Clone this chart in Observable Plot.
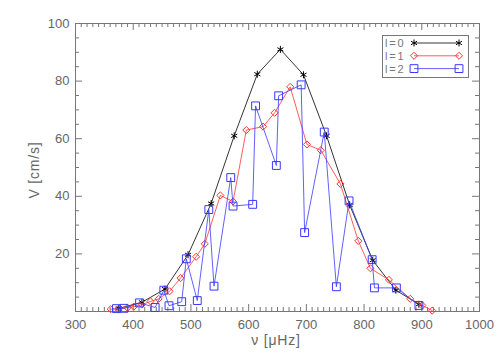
<!DOCTYPE html>
<html>
<head>
<meta charset="utf-8">
<script src="https://cdn.jsdelivr.net/npm/d3@7"></script>
<script src="https://cdn.jsdelivr.net/npm/@observablehq/plot@0.6"></script>
<style>
  html, body { margin: 0; padding: 0; background: #fff; }
</style>
</head>
<body>
<div id="chart"></div>
<script>
// l=0 (black, asterisks)
const l0Freq = [375, 415, 455, 495, 535, 575, 615, 655, 695, 735, 775, 815, 855, 895];
const l0Vel  = [1.1, 3.2, 7.8, 19.7, 37.5, 61, 82.4, 91, 82.2, 61, 37, 17.8, 7.4, 2.5];
// l=1 (red, diamonds)
const l1Freq = [361, 375, 390, 401, 415, 430, 444, 463, 482, 509, 524, 551, 573, 596, 625, 645, 672, 701, 725, 759, 790, 811, 843, 880, 901, 918];
const l1Vel  = [0.8, 1.0, 1.3, 1.7, 2.4, 3.5, 4.4, 7.0, 11.6, 19, 23.5, 40.3, 38.2, 63, 64.2, 69, 78, 58, 56, 44.3, 24.5, 15, 11, 4.4, 2.1, 0.3];
// l=2 (blue, squares)
const l2Freq = [371, 384, 411, 438, 453, 462, 484, 492, 511, 531, 540, 569, 573, 607, 612, 648, 652, 691, 697, 731, 752, 774, 814, 818, 856, 895];
const l2Vel  = [1.0, 1.1, 3.0, 1.4, 7.4, 2.0, 3.4, 18.3, 3.8, 35.4, 8.8, 46.5, 36.6, 37.2, 71.4, 50.7, 74.9, 78.7, 27.4, 62.3, 8.6, 38.4, 18.0, 8.2, 8.2, 2.1];

const xTickLabels = [300, 400, 500, 600, 700, 800, 900, 1000];
const yTickLabels = [20, 40, 60, 80, 100];
const seriesNames = ["l=0", "l=1", "l=2"];

const toRows = (xs, ys) => xs.map((x, i) => ({x, y: ys[i]}));
const s0 = toRows(l0Freq, l0Vel);
const s1 = toRows(l1Freq, l1Vel);
const s2 = toRows(l2Freq, l2Vel);

const W = 501, H = 358;
const mL = 75, mR = 22, mT = 23, mB = 47;
const kx = (1000 - 300) / (W - mL - mR); // data units per px
const ky = 100 / (H - mT - mB);

const xMajor = d3.range(300, 1001, 100);
const xMinor = d3.range(300, 1001, 10).filter(v => v % 100 !== 0);
const yMajor = d3.range(0, 101, 20);
const yMinor = d3.range(0, 101, 5).filter(v => v % 20 !== 0);

const axisColor = "#777";
const majLen = 7, minLen = 4;
const font = "Liberation Sans, Arial, sans-serif";

const black = "#000000", red = "#ff3333", blue = "#3838ff";

const chart = Plot.plot({
  width: W, height: H,
  marginLeft: mL, marginRight: mR, marginTop: mT, marginBottom: mB,
  style: {fontFamily: font, background: "#fff"},
  x: {domain: [300, 1000]},
  y: {domain: [0, 100]},
  marks: [
    Plot.frame({stroke: axisColor}),
    // bottom ticks
    Plot.ruleX(xMajor, {x: d => d, y1: 0, y2: majLen * ky, stroke: axisColor}),
    Plot.ruleX(xMinor, {x: d => d, y1: 0, y2: minLen * ky, stroke: axisColor}),
    // top ticks
    Plot.ruleX(xMajor, {x: d => d, y1: 100, y2: 100 - majLen * ky, stroke: axisColor}),
    Plot.ruleX(xMinor, {x: d => d, y1: 100, y2: 100 - minLen * ky, stroke: axisColor}),
    // left ticks
    Plot.ruleY(yMajor, {y: d => d, x1: 300, x2: 300 + majLen * kx, stroke: axisColor}),
    Plot.ruleY(yMinor, {y: d => d, x1: 300, x2: 300 + minLen * kx, stroke: axisColor}),
    // right ticks
    Plot.ruleY(yMajor, {y: d => d, x1: 1000, x2: 1000 - majLen * kx, stroke: axisColor}),
    Plot.ruleY(yMinor, {y: d => d, x1: 1000, x2: 1000 - minLen * kx, stroke: axisColor}),
    Plot.axisX({ticks: xTickLabels, tickSize: 0, tickPadding: 8, tickFormat: d3.format("d"),
      fontSize: 13, color: "#666", label: null}),
    Plot.axisY({ticks: yTickLabels, tickSize: 0, tickPadding: 6, tickFormat: d3.format("d"),
      fontSize: 13, color: "#666", label: null}),
    // series
    Plot.line(s0, {x: "x", y: "y", stroke: black, strokeWidth: 0.8}),
    Plot.dot(s0, {x: "x", y: "y", symbol: "asterisk", r: 3.3, stroke: black, strokeWidth: 1}),
    Plot.line(s1, {x: "x", y: "y", stroke: red, strokeWidth: 0.8}),
    Plot.dot(s1, {x: "x", y: "y", symbol: "diamond2", r: 3.2, stroke: red, strokeWidth: 1}),
    Plot.line(s2, {x: "x", y: "y", stroke: blue, strokeWidth: 0.8}),
    Plot.dot(s2, {x: "x", y: "y", symbol: "square2", r: 5, stroke: blue, strokeWidth: 1})
  ]
});

document.getElementById("chart").appendChild(chart);

const svg = d3.select(chart);
// axis titles
svg.append("text").attr("x", 276).attr("y", 345).attr("text-anchor", "middle")
  .attr("font-family", font).attr("font-size", 14).attr("fill", "#666")
  .attr("letter-spacing", 0.8).text("ν [μHz]");
svg.append("text").attr("transform", "translate(39,170) rotate(-90)").attr("text-anchor", "middle")
  .attr("font-family", font).attr("font-size", 14).attr("fill", "#666")
  .attr("letter-spacing", 0.8).text("V [cm/s]");

// legend box (top-right, inside the frame)
const lg = svg.append("g").attr("font-family", font);
lg.append("rect").attr("x", 382.5).attr("y", 35.5).attr("width", 86).attr("height", 42)
  .attr("fill", "#fff").attr("stroke", axisColor);
const legendStyle = [
  {color: black, sym: d3.symbolAsterisk, size: 34},
  {color: red, sym: d3.symbolDiamond2, size: 32},
  {color: blue, sym: d3.symbolSquare2, size: 78}
];
seriesNames.forEach((name, i) => {
  const yy = 43 + i * 12.8;
  const st = legendStyle[i];
  lg.append("text").attr("x", 385).attr("y", yy).attr("dy", "0.36em")
    .attr("text-anchor", "start").attr("font-size", 11).attr("letter-spacing", 1.8)
    .attr("fill", "#777").text(name);
  lg.append("line").attr("x1", 414).attr("x2", 459).attr("y1", yy).attr("y2", yy)
    .attr("stroke", st.color).attr("stroke-width", 0.8);
  [414, 459].forEach(cx => {
    lg.append("path").attr("transform", `translate(${cx},${yy})`)
      .attr("d", d3.symbol(st.sym, st.size)()).attr("fill", "none").attr("stroke", st.color);
  });
});
</script>
</body>
</html>
